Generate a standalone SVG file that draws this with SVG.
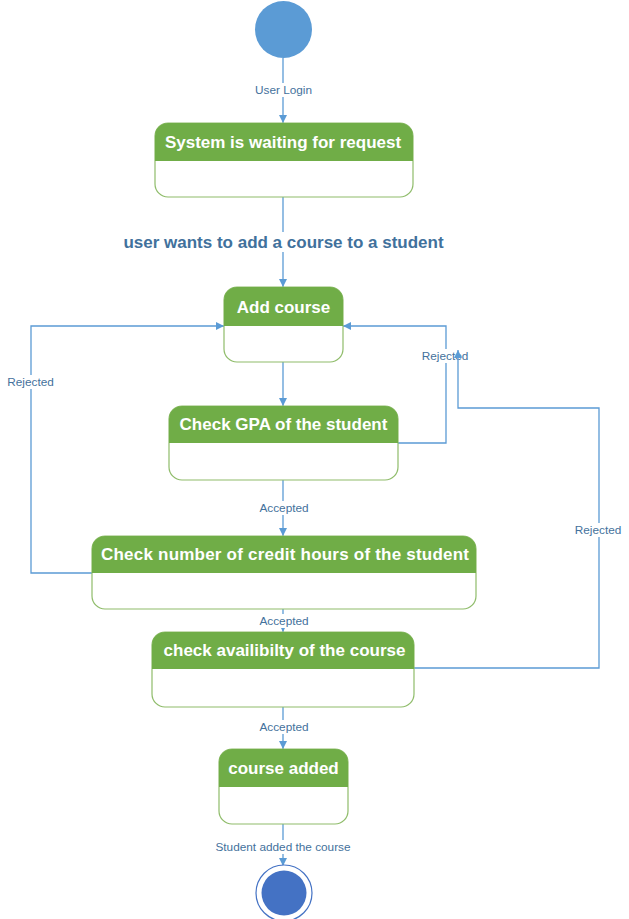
<svg xmlns="http://www.w3.org/2000/svg" width="629" height="919" viewBox="0 0 629 919">
<style>
.box{fill:#fff;stroke:#8FBC6A;stroke-width:1.2}
.hdr{fill:#70AD47}
.ht{font-family:"Liberation Sans",Arial,sans-serif;font-weight:bold;font-size:17px;fill:#fff;text-anchor:middle}
.c{fill:none;stroke:#5B9BD5;stroke-width:1.3}
.lb{font-family:"Liberation Sans",Arial,sans-serif;font-size:11.8px;fill:#44719C;text-anchor:middle}
.bg{fill:#fff}
.big{font-family:"Liberation Sans",Arial,sans-serif;font-weight:bold;font-size:17px;fill:#41719C;text-anchor:middle}
</style>
<defs>
<marker id="ar" viewBox="0 0 10 10" refX="10" refY="5" markerWidth="8" markerHeight="8" markerUnits="userSpaceOnUse" orient="auto">
<path d="M0,0 L10,5 L0,10 Z" fill="#5B9BD5"/>
</marker>
</defs>
<g id="connectors">
<path class="c" d="M283,58 V123" marker-end="url(#ar)"/>
<rect class="bg" x="252" y="83" width="64" height="14"/>
<text class="lb" x="283.5" y="94">User Login</text>
<path class="c" d="M283,197 V287" marker-end="url(#ar)"/>
<rect class="bg" x="118" y="232" width="332" height="20"/>
<text class="big" x="283.5" y="248">user wants to add a course to a student</text>
<path class="c" d="M283,362 V406" marker-end="url(#ar)"/>
<path class="c" d="M283,480 V536" marker-end="url(#ar)"/>
<rect class="bg" x="254" y="501" width="60" height="14"/>
<text class="lb" x="284" y="512">Accepted</text>
<path class="c" d="M283,609 V632" marker-end="url(#ar)"/>
<rect class="bg" x="254" y="614" width="60" height="14"/>
<text class="lb" x="284" y="625">Accepted</text>
<path class="c" d="M283,707 V749" marker-end="url(#ar)"/>
<rect class="bg" x="254" y="720" width="60" height="14"/>
<text class="lb" x="284" y="731">Accepted</text>
<path class="c" d="M283,824 V866" marker-end="url(#ar)"/>
<rect class="bg" x="210" y="840" width="148" height="14"/>
<text class="lb" x="283" y="851">Student added the course</text>
<path class="c" d="M92,573 H31 V326 H224" marker-end="url(#ar)"/>
<rect class="bg" x="5" y="375" width="52" height="14"/>
<text class="lb" x="30.5" y="386">Rejected</text>
<path class="c" d="M398,443 H446 V326 H343" marker-end="url(#ar)"/>
<rect class="bg" x="420" y="349" width="52" height="14"/>
<text class="lb" x="445" y="360">Rejected</text>
<path class="c" d="M414,668 H599 V408 H458 V350" marker-end="url(#ar)"/>
<rect class="bg" x="572" y="523" width="54" height="14"/>
<text class="lb" x="598" y="534">Rejected</text>
</g>
<g id="start">
<circle cx="283.5" cy="29.5" r="28.5" fill="#5B9BD5"/>
</g>
<g id="n1">
<rect class="box" x="155" y="123" width="258" height="74" rx="13"/>
<path class="hdr" d="M155,161 V136 A13,13 0 0 1 168,123 H400 A13,13 0 0 1 413,136 V161 Z"/>
<text class="ht" x="283" y="148">System is waiting for request</text>
</g>
<g id="n2">
<rect class="box" x="224" y="287" width="119" height="75" rx="13"/>
<path class="hdr" d="M224,326 V300 A13,13 0 0 1 237,287 H330 A13,13 0 0 1 343,300 V326 Z"/>
<text class="ht" x="283.5" y="313">Add course</text>
</g>
<g id="n3">
<rect class="box" x="169" y="406" width="229" height="74" rx="13"/>
<path class="hdr" d="M169,443 V419 A13,13 0 0 1 182,406 H385 A13,13 0 0 1 398,419 V443 Z"/>
<text class="ht" x="283.5" y="430">Check GPA of the student</text>
</g>
<g id="n4">
<rect class="box" x="92" y="536" width="384" height="73" rx="13"/>
<path class="hdr" d="M92,573 V549 A13,13 0 0 1 105,536 H463 A13,13 0 0 1 476,549 V573 Z"/>
<text class="ht" x="285" y="560" textLength="368">Check number of credit hours of the student</text>
</g>
<g id="n5">
<rect class="box" x="152" y="632" width="262" height="75" rx="13"/>
<path class="hdr" d="M152,669 V645 A13,13 0 0 1 165,632 H401 A13,13 0 0 1 414,645 V669 Z"/>
<text class="ht" x="284.5" y="656">check availibilty of the course</text>
</g>
<g id="n6">
<rect class="box" x="219" y="749" width="129" height="75" rx="13"/>
<path class="hdr" d="M219,787 V762 A13,13 0 0 1 232,749 H335 A13,13 0 0 1 348,762 V787 Z"/>
<text class="ht" x="283.5" y="774">course added</text>
</g>
<g id="end">
<circle cx="284" cy="893" r="28" fill="#fff" stroke="#4472C4" stroke-width="1.2"/>
<circle cx="284" cy="893" r="22.5" fill="#4472C4"/>
</g>
</svg>
